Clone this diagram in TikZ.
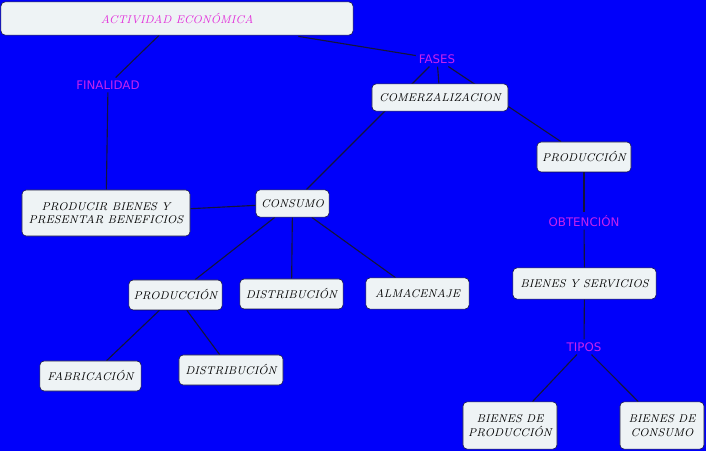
\documentclass[tikz,border=0pt]{standalone}
\usepackage{fontspec}
\newfontfamily\labelfont{DejaVu Sans}
\usetikzlibrary{positioning, backgrounds}
\definecolor{mapblue}{HTML}{0000FA}
\definecolor{boxfill}{HTML}{EEF3F5}
\definecolor{linkcol}{HTML}{14143C}
\definecolor{titlemag}{HTML}{E22EDA}
\definecolor{labpurple}{HTML}{C623EE}

\begin{document}
\begin{tikzpicture}[x=0.025cm, y=-0.025cm,
        concept/.style={draw=linkcol, fill=boxfill, rounded corners=3pt,
                        inner sep=0pt, align=center, font=\itshape\footnotesize},
        tag/.style={text=labpurple, font=\labelfont\fontsize{8.4}{10}\selectfont,
                    inner sep=2pt},
        link/.style={draw=linkcol, line width=0.8pt},
      ]
      \begin{scope}[on background layer]
        \fill[mapblue] (0,0) rectangle (706,451);
      \end{scope}
      \useasboundingbox (0,0) rectangle (706,451);

      % top
      \node[concept, minimum width=8.8cm, minimum height=0.83cm, text=titlemag]
        (actividad) at (177,18.5) {ACTIVIDAD ECONÓMICA};
      \node[tag] (finalidad) at (108,85) {FINALIDAD};
      \node[tag] (fases) at (437,59) {FASES};

      % fases
      \node[concept, minimum width=3.4cm, minimum height=0.68cm]
        (comerz) at (440,97.5) {COMERZALIZACION};
      \node[concept, minimum width=2.35cm, minimum height=0.75cm]
        (prodR) at (584,157) {PRODUCCIÓN};
      \node[tag] (obtencion) at (584,221) {OBTENCIÓN};
      \node[concept, minimum width=3.58cm, minimum height=0.78cm]
        (bienes) at (584.5,283.5) {BIENES Y SERVICIOS};
      \node[tag] (tipos) at (584,347) {TIPOS};
      \node[concept, minimum width=2.35cm, minimum height=1.18cm]
        (bprod) at (510,425.5) {BIENES DE\\PRODUCCIÓN};
      \node[concept, minimum width=2.1cm, minimum height=1.18cm]
        (bcons) at (662,425.5) {BIENES DE\\CONSUMO};

      % left branch
      \node[concept, minimum width=4.2cm, minimum height=1.15cm]
        (producir) at (106,213) {PRODUCIR BIENES Y\\PRESENTAR BENEFICIOS};
      \node[concept, minimum width=1.83cm, minimum height=0.68cm]
        (consumo) at (292.5,203.5) {CONSUMO};
      \node[concept, minimum width=2.33cm, minimum height=0.75cm]
        (prodL) at (175.5,295) {PRODUCCIÓN};
      \node[concept, minimum width=2.58cm, minimum height=0.75cm]
        (distM) at (291.5,294) {DISTRIBUCIÓN};
      \node[concept, minimum width=2.58cm, minimum height=0.78cm]
        (almac) at (417.5,293.5) {ALMACENAJE};
      \node[concept, minimum width=2.53cm, minimum height=0.75cm]
        (fabric) at (90.5,376) {FABRICACIÓN};
      \node[concept, minimum width=2.6cm, minimum height=0.75cm]
        (distL) at (231,370) {DISTRIBUCIÓN};

      \begin{scope}[on background layer]
        \draw[link] (actividad.south) ++(-18,0) -- (finalidad);
        \draw[link] (finalidad) -- (producir);
        \draw[link] (actividad.south east) ++(-55,1) -- (fases);
        \draw[link] (fases) -- (consumo);
        \draw[link] (fases) -- (comerz);
        \draw[link] (fases) -- (prodR);
        \draw[link] (prodR) -- (obtencion);
        \draw[link] (obtencion) -- (bienes);
        \draw[link] (bienes) -- (tipos);
        \draw[link] (tipos) -- (bprod);
        \draw[link] (tipos) -- (bcons);
        \draw[link] (consumo) -- (producir);
        \draw[link] (consumo) -- (prodL);
        \draw[link] (consumo) -- (distM);
        \draw[link] (consumo) -- (almac);
        \draw[link] (prodL) -- (fabric);
        \draw[link] (prodL) -- (distL);
      \end{scope}
    \end{tikzpicture}
\end{document}
